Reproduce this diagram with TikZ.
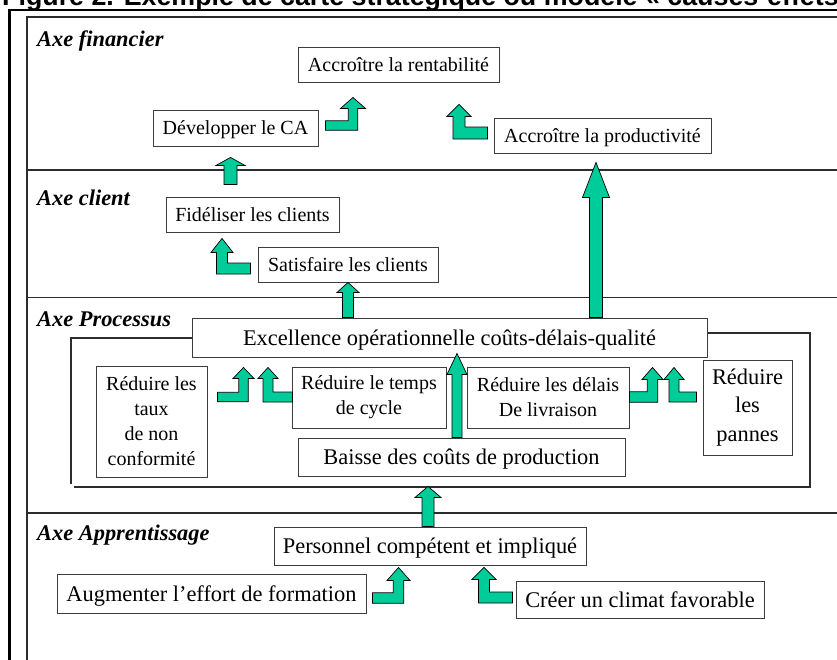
\documentclass[tikz,border=0pt]{standalone}
\usepackage{fontspec}
\setmainfont{Liberation Serif}
\newfontfamily\titlefont{Liberation Sans}
\usetikzlibrary{calc}
\definecolor{arrowfill}{RGB}{0,204,153}
\definecolor{boxline}{RGB}{60,60,60}
\definecolor{sepline}{RGB}{45,45,45}

\tikzset{
  box/.style={draw=boxline, line width=0.9pt, fill=white, inner sep=0pt, align=center,
              font=\fontsize{20}{25}\selectfont},
  one/.style={text height=13.6pt, text depth=0pt},
  onebig/.style={text height=15.2pt, text depth=0pt},
  bigtext/.style={font=\fontsize{22.4}{28.5}\selectfont},
  axislabel/.style={anchor=base west, inner sep=0pt, font=\fontsize{22.4}{26}\selectfont\bfseries\itshape},
  blockarrow/.style={fill=arrowfill, draw=black, line width=0.7pt, line join=miter},
  frameouter/.style={line width=2.6pt, black},
  frameinner/.style={line width=1.1pt, sepline},
  sepstyle/.style={line width=1.1pt, sepline},
}

% bent block arrow, bar coming from the left: #1 bar end (bar centre line), #2 tip, #3 half shaft, #4 half head, #5 head length
\newcommand\bentFromLeft[5]{%
  \filldraw[blockarrow] let \p1=(#1), \p2=(#2) in
    (\x1,\y1+#3pt) -- (\x2-#3pt,\y1+#3pt) -- (\x2-#3pt,\y2-#5pt) -- (\x2-#4pt,\y2-#5pt) -- (\x2,\y2)
    -- (\x2+#4pt,\y2-#5pt) -- (\x2+#3pt,\y2-#5pt) -- (\x2+#3pt,\y1-#3pt) -- (\x1,\y1-#3pt) -- cycle;}
% bent block arrow, bar coming from the right
\newcommand\bentFromRight[5]{%
  \filldraw[blockarrow] let \p1=(#1), \p2=(#2) in
    (\x1,\y1+#3pt) -- (\x2+#3pt,\y1+#3pt) -- (\x2+#3pt,\y2-#5pt) -- (\x2+#4pt,\y2-#5pt) -- (\x2,\y2)
    -- (\x2-#4pt,\y2-#5pt) -- (\x2-#3pt,\y2-#5pt) -- (\x2-#3pt,\y1-#3pt) -- (\x1,\y1-#3pt) -- cycle;}
% straight upward block arrow: #1 bottom (its y is used), #2 tip
\newcommand\upBlock[5]{%
  \filldraw[blockarrow] let \p1=(#1), \p2=(#2) in
    (\x2-#3pt,\y1) -- (\x2-#3pt,\y2-#5pt) -- (\x2-#4pt,\y2-#5pt) -- (\x2,\y2)
    -- (\x2+#4pt,\y2-#5pt) -- (\x2+#3pt,\y2-#5pt) -- (\x2+#3pt,\y1) -- cycle;}

\begin{document}
\begin{tikzpicture}[x=1pt,y=-1pt]
\useasboundingbox (0,0) rectangle (837,659);
\clip (0,0) rectangle (837,659);

% title (cut by the top edge)
\node[anchor=base west, inner sep=0pt, font=\titlefont\bfseries\fontsize{26.8}{30}\selectfont] (title) at (2,5.5)
  {Figure 2. Exemple de carte stratégique ou modèle « causes-effets »};

% frames and section separators
\draw[frameouter] (9.5,700) -- (9.5,9.8) -- (900,9.8);
\draw[frameinner] (27,700) -- (27,17) -- (900,17);
\draw[sepstyle] (27,170) -- (900,170);
\draw[sepstyle] (27,297.5) -- (900,297.5);
\draw[sepstyle] (27,513) -- (900,513);
\draw[frameinner] (192,338) -- (71,338) -- (71,484);
\draw[frameinner] (707,333) -- (810,333) -- (810,487) -- (74,487);

% axis labels
\node[axislabel] (lfin) at (37,46) {Axe financier};
\node[axislabel] (lcli) at (37,205) {Axe client};
\node[axislabel] (lpro) at (37,326) {Axe Processus};
\node[axislabel] (lapp) at (37,540) {Axe Apprentissage};

% boxes
\node[box, one, minimum width=201, minimum height=35] (rent) at (398.5,64.5) {Accroître la rentabilité};
\node[box, one, minimum width=165, minimum height=36] (ca) at (235.5,128) {Développer le CA};
\node[box, one, minimum width=217, minimum height=35] (prod) at (602.5,135.5) {Accroître la productivité};
\node[box, one, minimum width=173, minimum height=35] (fid) at (252.5,214.5) {Fidéliser les clients};
\node[box, one, minimum width=180, minimum height=35] (sat) at (348,264.5) {Satisfaire les clients};
\node[box, bigtext, onebig, minimum width=515, minimum height=39] (exc) at (449.5,337.5) {Excellence opérationnelle coûts-délais-qualité};
\node[box, minimum width=111, minimum height=111] (taux) at (151.5,421.5) {Réduire les\\taux\\de non\\conformité};
\node[box, minimum width=154, minimum height=61] (temps) at (369,397.5) {Réduire le temps\\de cycle};
\node[box, bigtext, onebig, minimum width=327, minimum height=38] (baisse) at (461.5,457) {Baisse des coûts de production};
\node[box, minimum width=162, minimum height=61] (delais) at (548,397.5) {Réduire les délais\\De livraison};
\node[box, bigtext, minimum width=89, minimum height=95] (pannes) at (747.5,407.5) {Réduire\\les\\pannes};
\node[box, bigtext, onebig, minimum width=312, minimum height=38] (pers) at (430,546) {Personnel compétent et impliqué};
\node[box, bigtext, onebig, minimum width=309, minimum height=39] (aug) at (211.5,593.5) {Augmenter l’effort de formation};
\node[box, bigtext, onebig, minimum width=248, minimum height=37] (creer) at (640,599.5) {Créer un climat favorable};

% block arrows
\bentFromLeft{$(ca.east)+(7,-2.5)$}{$(rent.south)+(-45.5,15)$}{4.75}{12.5}{11}
\bentFromRight{$(prod.west)+(-6,-2.5)$}{$(rent.south)+(60.5,22)$}{6}{12}{12}
\upBlock{$(fid.north)+(-22,-12)$}{$(ca.south)+(-5,11)$}{6.5}{14.5}{8}
\bentFromRight{$(sat.west)+(-7,4)$}{$(fid.south)+(-30.5,6)$}{5.5}{11}{14}
\upBlock{exc.north}{sat.south}{5.5}{11}{10}
\upBlock{exc.north}{$(prod.south)+(-6.5,9)$}{6.5}{13.5}{35}
\bentFromLeft{$(taux.east)+(10,-24.5)$}{$(exc.south)+(-206,10)$}{4.75}{10.5}{11}
\bentFromRight{$(temps.west)+(1,-0.5)$}{$(exc.south)+(-181.5,10)$}{5}{10}{11}
\upBlock{baisse.north}{$(exc.south)+(7.5,-4)$}{5}{10}{21}
\bentFromLeft{$(delais.east)+(0,-0.5)$}{$(exc.south)+(203,10)$}{5.25}{10.5}{12}
\bentFromRight{$(pannes.west)+(-6,-10.5)$}{$(exc.south)+(224.5,10)$}{5}{10}{12}
\upBlock{pers.north}{$(baisse.south)+(-33.5,10)$}{6}{13}{11}
\bentFromLeft{$(aug.east)+(6,4.5)$}{$(pers.south)+(-31.5,2)$}{5.25}{11.5}{13}
\bentFromRight{$(creer.west)+(-3,-2)$}{$(pers.south)+(54,2)$}{5.5}{12}{12}
\end{tikzpicture}
\end{document}
